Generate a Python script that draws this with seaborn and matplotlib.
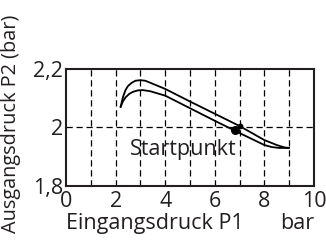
import numpy as np
import pandas as pd
import seaborn as sns
import matplotlib.pyplot as plt

# ==========================================
# 1. DATA
# ==========================================
upper_p1 = [2.2, 2.3, 2.4, 2.5, 2.65, 2.8, 3.0, 3.2, 4.0, 5.0, 6.0, 7.0, 8.0, 8.5, 8.8, 9.0]
upper_p2 = [2.07, 2.105, 2.128, 2.142, 2.153, 2.160, 2.162, 2.160, 2.132, 2.089, 2.047, 2.005, 1.957, 1.940, 1.932, 1.930]

lower_p1 = [2.2, 2.3, 2.4, 2.55, 2.7, 2.9, 3.1, 3.4, 4.0, 5.0, 6.0, 7.0, 8.0, 8.3, 8.6, 9.0]
lower_p2 = [2.07, 2.09, 2.103, 2.115, 2.122, 2.127, 2.128, 2.124, 2.109, 2.066, 2.023, 1.981, 1.940, 1.933, 1.930, 1.930]

start_p1 = [6.8, 7.0]
start_p2 = [1.99, 2.005]
start_size = [30, 10]

x_ticks = [0, 2, 4, 6, 8, 10]
y_ticks = [1.8, 2.0, 2.2]
y_ticklabels = ['1,8', '2', '2,2']

df = pd.concat([
    pd.DataFrame({'P1': upper_p1, 'P2': upper_p2, 'curve': 'upper'}),
    pd.DataFrame({'P1': lower_p1, 'P2': lower_p2, 'curve': 'lower'}),
], ignore_index=True)

# ==========================================
# 2. PLOT
# ==========================================
sns.set_style('white')
plt.rcParams['font.family'] = ['Open Sans', 'DejaVu Sans']
FS = 15.5
INK = '#231f20'

fig = plt.figure(figsize=(3.26, 2.44), dpi=100)
ax = fig.add_axes([0.2025, 0.238, 0.7605, 0.479])

sns.lineplot(data=df, x='P1', y='P2', units='curve', estimator=None, sort=False,
             color='black', linewidth=1.3, ax=ax)
for x, y, s in zip(start_p1, start_p2, start_size):
    ax.scatter(x, y, s=s, color='black', zorder=5)

# dashed grid
for x in range(1, 10):
    ax.axvline(x, color='black', linestyle=(0, (5, 3)), linewidth=0.9, zorder=0)
ax.axhline(2.0, color='black', linestyle=(0, (5, 3)), linewidth=0.9, zorder=0)

ax.set_xlim(0, 10)
ax.set_ylim(1.8, 2.2)
ax.set_xticks(x_ticks)
ax.set_xticklabels([str(t) for t in x_ticks])
ax.set_yticks(y_ticks)
ax.set_yticklabels(y_ticklabels)
ax.tick_params(length=0, labelsize=FS, colors=INK)
ax.tick_params(axis='x', pad=4)
ax.tick_params(axis='y', pad=2)

for sp in ax.spines.values():
    sp.set_color(INK)
    sp.set_linewidth(1.5)

ax.text(4.72, 1.925, 'Startpunkt', fontsize=FS, ha='center', va='center', color=INK)

ax.set_xlabel('')
ax.set_ylabel('Ausgangsdruck P2 (bar)', fontsize=14.3, color=INK)
ax.yaxis.set_label_coords(-0.18, 0.535)

fig.text(66 / 326, 0.085, 'Eingangsdruck P1', fontsize=FS, ha='left', va='center', color=INK)
fig.text(314 / 326, 0.085, 'bar', fontsize=FS, ha='right', va='center', color=INK)

fig.savefig('out.png', dpi=100)
